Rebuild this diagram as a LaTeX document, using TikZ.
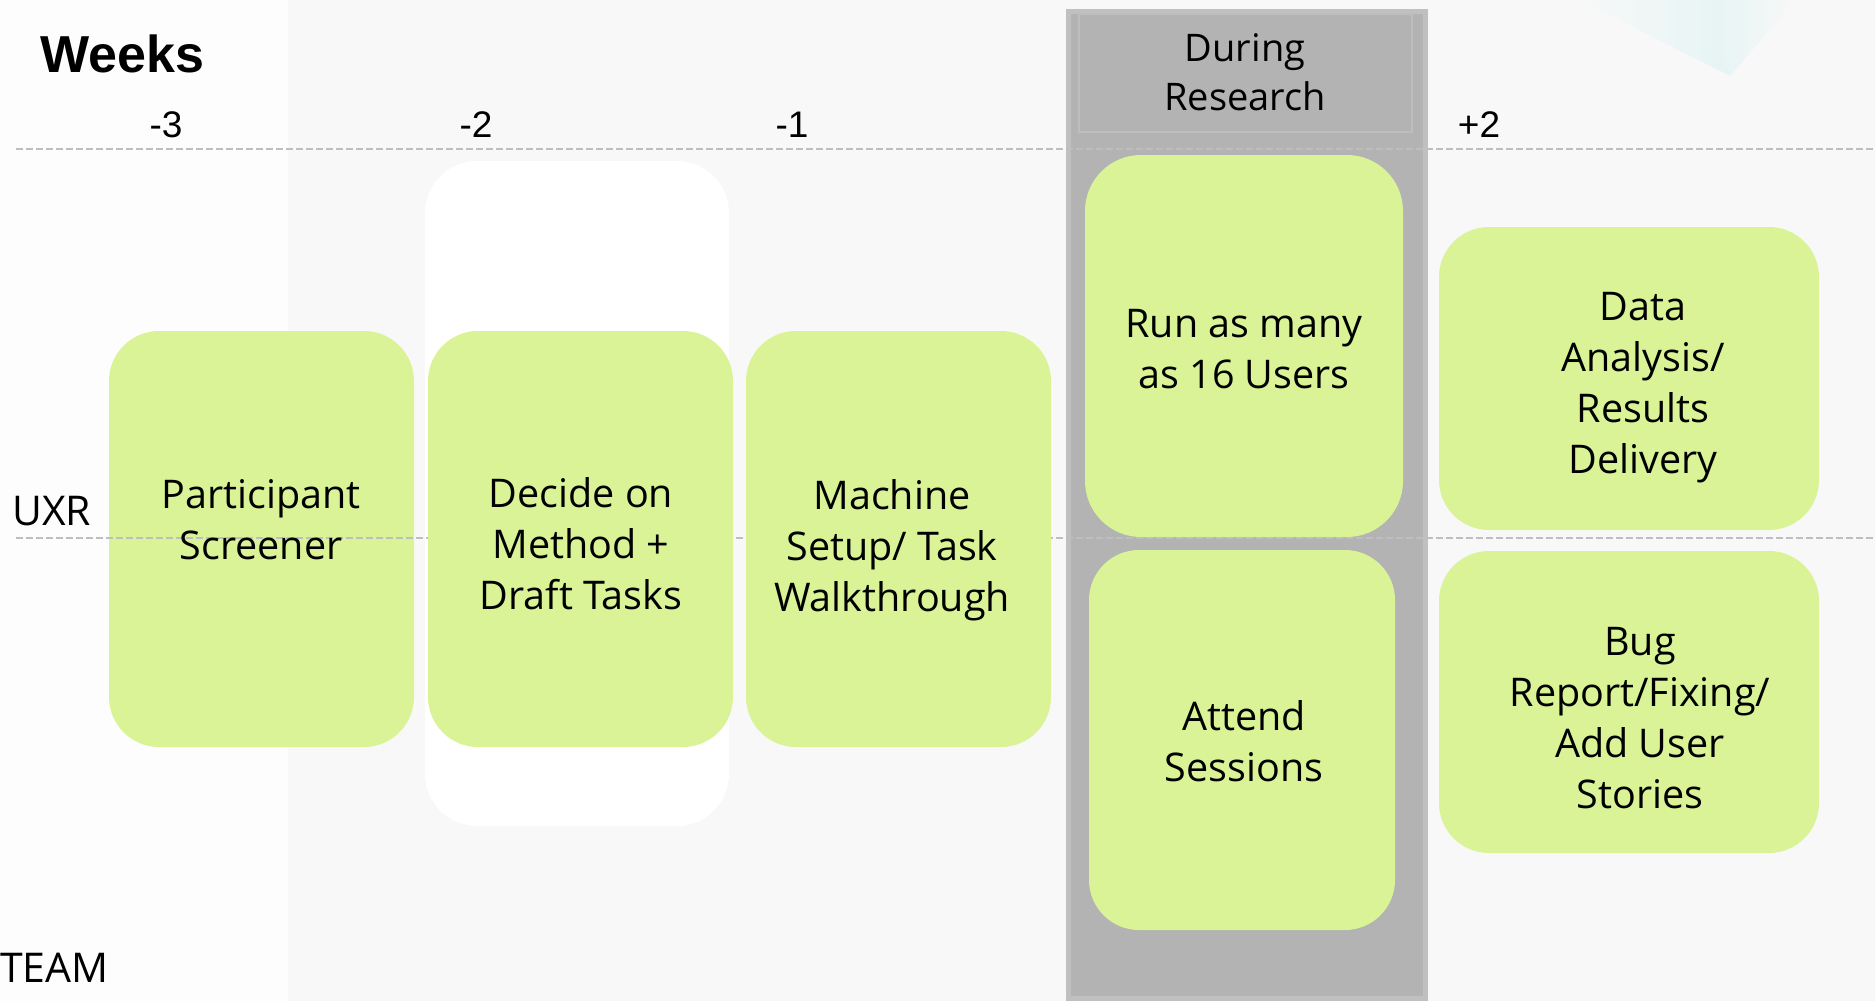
\documentclass[tikz,border=0pt]{standalone}
\usepackage{fontspec}
\setmainfont{Open Sans}
\newfontfamily\arialfont{Liberation Sans}

\definecolor{bgGrey}{RGB}{248,248,248}
\definecolor{bgLeft}{RGB}{253,253,253}
\definecolor{streakCyan}{RGB}{226,244,244}
\definecolor{taskGreen}{RGB}{217,243,150}
\definecolor{colGrey}{RGB}{179,179,179}
\definecolor{colEdge}{RGB}{192,192,192}
\definecolor{headEdge}{RGB}{190,190,190}
\definecolor{gridDash}{RGB}{190,190,190}

\tikzset{
  taskbox/.style={rectangle, fill=taskGreen, draw=none, rounded corners=50pt, inner sep=0pt},
  holdbox/.style={rectangle, fill=white, draw=none, rounded corners=52pt, inner sep=0pt},
  tasktext/.style={font=\fontsize{39.5}{51}\selectfont, align=center, text=black, inner sep=0pt},
  rowlabel/.style={font=\fontsize{41}{48}\selectfont, text=black, inner sep=0pt},
  weeknum/.style={font=\arialfont\fontsize{37}{44}\selectfont, text=black, inner sep=0pt},
  gridline/.style={draw=gridDash, line width=1.5pt, dash pattern=on 7pt off 3pt},
}

\begin{document}
\begin{tikzpicture}[x=1pt, y=-1pt]
  % canvas
  \useasboundingbox (0,0) rectangle (1875,1001);
  \fill[bgGrey] (0,0) rectangle (1875,1001);
  \fill[bgLeft] (0,0) rectangle (288,1001);
  % faint decorative streak, top right
  \shade[left color=bgGrey, right color=streakCyan, opacity=0.8]
    (1580,0) -- (1712,0) -- (1730,76) -- cycle;
  \shade[left color=streakCyan, right color=bgGrey, opacity=0.8]
    (1712,0) -- (1795,0) -- (1730,76) -- cycle;

  % white backdrop behind the week -2 task
  \node[holdbox, minimum width=304pt, minimum height=665pt] (hold) at (577,493.5) {};

  % "during research" column with its header
  \fill[colEdge] (1066,9) rectangle (1428,1001);
  \fill[colGrey] (1071,14) rectangle (1423,996);
  \node[rectangle, fill=colGrey, draw=headEdge, line width=2pt,
        minimum width=333pt, minimum height=118pt, inner sep=0pt] (head) at (1245.5,73) {};
  \node[tasktext, font=\fontsize{38}{49}\selectfont] (during) at (1245,72) {During\\Research};

  % row grid lines
  \coordinate (topL) at (16,149);  \coordinate (topR) at (1875,149);
  \coordinate (midL) at (16,538);  \coordinate (midR) at (1875,538);
  \draw[gridline] (topL) -- (topR);
  \draw[gridline] (midL) -- (midR);

  % task boxes
  \node[taskbox, minimum width=305pt, minimum height=416pt] (screener) at (261.5,539) {};
  \node[taskbox, minimum width=305pt, minimum height=416pt] (method)   at (580.5,539) {};
  \node[taskbox, minimum width=305pt, minimum height=416pt] (setup)    at (898.5,539) {};
  \node[taskbox, rounded corners=56pt, minimum width=318pt, minimum height=382pt] (run) at (1244,346) {};
  \node[taskbox, minimum width=306pt, minimum height=380pt] (attend)   at (1242,740) {};
  \node[taskbox, minimum width=380pt, minimum height=303pt] (data)     at (1629,378.5) {};
  \node[taskbox, minimum width=380pt, minimum height=302pt] (bug)      at (1629,702) {};

  % the UXR line runs over the first task box
  \coordinate (midS) at (428,538);
  \draw[gridline] (midL) -- (midS);

  % task labels
  \node[tasktext] (tScreener) at (261,520) {Participant\\Screener};
  \node[tasktext] (tMethod)   at (581,544) {Decide on\\Method +\\Draft Tasks};
  \node[tasktext] (tSetup)    at (892,550) {Machine\\Setup/ Task\\Walkthrough};
  \node[tasktext] (tRun)      at (1244,349) {Run as many\\as 16 Users};
  \node[tasktext] (tAttend)   at (1244,741) {Attend\\Sessions};
  \node[tasktext] (tData)     at (1643,388) {Data\\Analysis/\\Results\\Delivery};
  \node[tasktext] (tBug)      at (1640,718) {Bug\\Report/Fixing/\\Add User\\Stories};

  % headings and axis labels
  \node[anchor=base west, inner sep=0pt, font=\arialfont\bfseries\fontsize{52}{60}\selectfont] (weeks) at (40,72) {Weeks};
  \node[weeknum, anchor=base] (w3) at (166,137.5) {-3};
  \node[weeknum, anchor=base] (w2) at (476,137.5) {-2};
  \node[weeknum, anchor=base] (w1) at (792,137.5) {-1};
  \node[weeknum, anchor=base] (wp2) at (1479,137.5) {+2};
  \node[rowlabel, anchor=base west] (uxr) at (12,525) {UXR};
  \node[rowlabel, anchor=base west] (team) at (0,982) {TEAM};
\end{tikzpicture}
\end{document}
